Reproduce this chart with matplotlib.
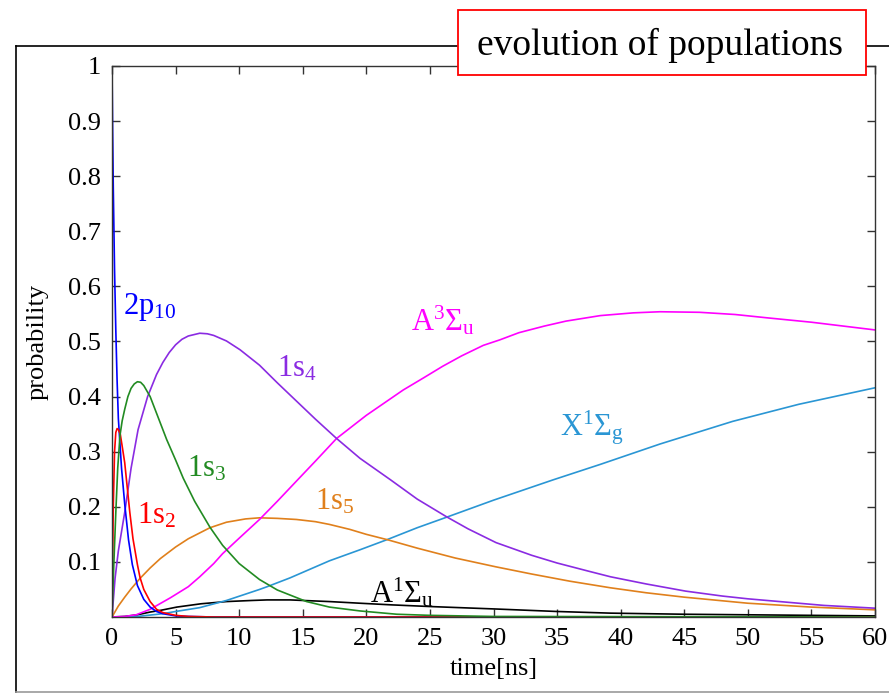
import matplotlib
matplotlib.use("Agg")
import matplotlib.pyplot as plt
import matplotlib.patches as patches
import matplotlib.lines as mlines

plt.rcParams['font.family'] = ['Liberation Serif', 'DejaVu Serif']
plt.rcParams['mathtext.fontset'] = 'custom'
plt.rcParams['mathtext.rm'] = 'Liberation Serif'
plt.rcParams['mathtext.it'] = 'Liberation Serif:italic'

# 読み取った値（時間 ns と確率）
t_2p10 = [0, 0.05, 0.1, 0.2, 0.3, 0.4, 0.5, 0.75, 1.0, 1.3, 1.6, 2.0, 2.5, 3.0, 3.5, 4.0, 5.0, 6.0, 8.0, 60]
p_2p10 = [1.0, 0.88, 0.78, 0.63, 0.52, 0.43, 0.36, 0.27, 0.205, 0.14, 0.095, 0.057, 0.032, 0.018, 0.010, 0.006, 0.002, 0.001, 0, 0]

t_1s2 = [0, 0.1, 0.2, 0.3, 0.4, 0.5, 0.65, 0.8, 1.0, 1.2, 1.4, 1.65, 2.0, 2.2, 2.5, 3.0, 3.5, 4.0, 5.0, 6.0, 8.0, 60]
p_1s2 = [0, 0.2, 0.3, 0.335, 0.342, 0.34, 0.332, 0.31, 0.28, 0.235, 0.19, 0.142, 0.095, 0.072, 0.05, 0.028, 0.014, 0.008, 0.003, 0.001, 0, 0]

t_1s3 = [0, 0.15, 0.3, 0.45, 0.63, 0.8, 1.0, 1.25, 1.5, 1.75, 2.0, 2.25, 2.5, 3.0, 3.5, 4.3, 5.0, 5.6, 6.5, 7.7, 8.7, 10.0, 11.6, 13.0, 15.3, 17.1, 19.5, 22.4, 25, 30, 60]
p_1s3 = [0, 0.1, 0.19, 0.27, 0.33, 0.356, 0.377, 0.4, 0.415, 0.423, 0.427, 0.426, 0.42, 0.4, 0.37, 0.322, 0.285, 0.252, 0.21, 0.163, 0.13, 0.097, 0.068, 0.049, 0.028, 0.018, 0.011, 0.005, 0.003, 0.001, 0]

t_1s4 = [0, 0.24, 0.5, 1.0, 1.5, 2.05, 2.8, 3.5, 4.0, 4.5, 5.0, 5.5, 6.0, 6.9, 7.5, 8.0, 9.0, 10.07, 11.6, 13.0, 14.5, 16.0, 17.66, 19.5, 21.9, 24, 26.3, 28, 30.2, 33, 35, 37.5, 39.2, 42, 45.1, 48, 50, 53, 56, 60]
p_1s4 = [0, 0.07, 0.12, 0.19, 0.27, 0.34, 0.40, 0.44, 0.462, 0.48, 0.494, 0.504, 0.51, 0.515, 0.514, 0.511, 0.501, 0.485, 0.457, 0.425, 0.392, 0.359, 0.324, 0.288, 0.249, 0.214, 0.182, 0.16, 0.135, 0.112, 0.098, 0.083, 0.073, 0.06, 0.047, 0.038, 0.033, 0.027, 0.021, 0.016]

t_1s5 = [0, 0.25, 0.5, 1.0, 1.5, 2.2, 3.0, 3.8, 5.0, 6.0, 7.7, 9.0, 10.5, 11.6, 13, 14.5, 16, 17.1, 18.7, 20, 21.7, 24, 27, 30.2, 33, 36, 39.2, 42, 45, 50, 55, 60]
p_1s5 = [0, 0.01, 0.02, 0.036, 0.051, 0.07, 0.089, 0.106, 0.127, 0.142, 0.162, 0.172, 0.178, 0.18, 0.179, 0.177, 0.173, 0.168, 0.159, 0.15, 0.14, 0.125, 0.107, 0.091, 0.078, 0.065, 0.053, 0.044, 0.036, 0.025, 0.018, 0.013]

t_A3 = [0, 1, 1.9, 3, 4.6, 6, 6.9, 8, 8.7, 10, 11.6, 13, 14.6, 16, 17.66, 20, 22.9, 24.5, 26, 27.5, 29.2, 30.5, 32, 34, 35.7, 38.4, 41, 43.1, 46.2, 49, 51.5, 55, 60]
p_A3 = [0, 0.001, 0.004, 0.014, 0.035, 0.055, 0.073, 0.097, 0.115, 0.143, 0.177, 0.21, 0.249, 0.283, 0.324, 0.366, 0.412, 0.434, 0.455, 0.474, 0.493, 0.503, 0.516, 0.528, 0.537, 0.547, 0.552, 0.554, 0.553, 0.549, 0.543, 0.535, 0.521]

t_X1 = [0, 2, 4, 5, 6.9, 9, 11.6, 12.2, 14, 15.5, 17.1, 19.5, 21.7, 24, 26.3, 30, 34.7, 38.4, 43.1, 48.8, 54, 60]
p_X1 = [0, 0.001, 0.006, 0.01, 0.017, 0.03, 0.05, 0.055, 0.071, 0.086, 0.102, 0.122, 0.141, 0.162, 0.181, 0.212, 0.249, 0.277, 0.314, 0.355, 0.386, 0.416]

t_A1 = [0, 1, 2, 3, 3.8, 5.1, 7, 9, 11, 12.2, 14, 17.1, 19.5, 22, 25, 30.2, 35, 39.2, 45, 50, 55, 60]
p_A1 = [0, 0.001, 0.004, 0.009, 0.012, 0.018, 0.024, 0.028, 0.030, 0.031, 0.031, 0.028, 0.025, 0.022, 0.019, 0.0145, 0.01, 0.007, 0.005, 0.004, 0.003, 0.002]

x_ticks = [0, 5, 10, 15, 20, 25, 30, 35, 40, 45, 50, 55, 60]
y_ticks = [0.1, 0.2, 0.3, 0.4, 0.5, 0.6, 0.7, 0.8, 0.9, 1.0]
y_ticklabels = ['0.1', '0.2', '0.3', '0.4', '0.5', '0.6', '0.7', '0.8', '0.9', '1']

fig = plt.figure(figsize=(8.89, 6.94), dpi=100)
ax = fig.add_axes([112 / 889, 77 / 694, 763 / 889, 551 / 694])

lw = 1.2
ax.plot(t_A1, p_A1, color='black', lw=lw)
ax.plot(t_X1, p_X1, color='#2a96d4', lw=lw)
ax.plot(t_1s5, p_1s5, color='#e0801c', lw=lw)
ax.plot(t_A3, p_A3, color='#ff00ff', lw=lw)
ax.plot(t_1s4, p_1s4, color='#8a2be2', lw=lw)
ax.plot(t_2p10, p_2p10, color='#0000ff', lw=lw)
ax.plot(t_1s2, p_1s2, color='#ff0000', lw=lw)
ax.plot(t_1s3, p_1s3, color='#228b22', lw=lw)

ax.set_xlim(0, 60)
ax.set_ylim(0, 1)
ax.set_xticks(x_ticks)
ax.set_yticks(y_ticks)
ax.set_yticklabels(y_ticklabels)
ax.tick_params(direction='in', top=True, right=True, length=6, width=1,
               labelsize=19, pad=8, color='#333333')
for s in ax.spines.values():
    s.set_color('#333333')
    s.set_linewidth(1)

ax.set_xlabel('time[ns]', fontsize=19, labelpad=6)
ax.set_ylabel('probability', fontsize=19, labelpad=14)

# 曲線ラベル
fs = 22
ax.text(0.9, 0.55, r'$\mathrm{2p_{10}}$', color='#0000ff', fontsize=fs)
ax.text(13.0, 0.437, r'$\mathrm{1s_4}$', color='#8a2be2', fontsize=fs)
ax.text(23.5, 0.52, r'$\mathrm{A^3Σ_u}$', color='#ff00ff', fontsize=fs)
ax.text(5.9, 0.255, r'$\mathrm{1s_3}$', color='#228b22', fontsize=fs)
ax.text(2.0, 0.17, r'$\mathrm{1s_2}$', color='#ff0000', fontsize=fs)
ax.text(16.0, 0.195, r'$\mathrm{1s_5}$', color='#e0801c', fontsize=fs)
ax.text(35.2, 0.33, r'$\mathrm{X^1Σ_g}$', color='#2a96d4', fontsize=fs)
ax.text(20.3, 0.027, r'$\mathrm{A^1Σ_u}$', color='black', fontsize=fs)

# 外枠
fig.add_artist(mlines.Line2D([16 / 889, 16 / 889], [2 / 694, 648 / 694], color='black', lw=1.2))
fig.add_artist(mlines.Line2D([16 / 889, 1.0], [648 / 694, 648 / 694], color='black', lw=1.2))
fig.add_artist(mlines.Line2D([16 / 889, 1.0], [2 / 694, 2 / 694], color='#999999', lw=1.2))

# タイトルボックス
box = patches.Rectangle((458 / 889, 619 / 694), 408 / 889, 65 / 694, transform=fig.transFigure,
                        facecolor='white', edgecolor='red', lw=1.3, zorder=5)
fig.add_artist(box)
fig.text(660 / 889, 649 / 694, 'evolution of populations', fontsize=27,
         ha='center', va='center', zorder=6)

fig.savefig('out.png', dpi=100)
